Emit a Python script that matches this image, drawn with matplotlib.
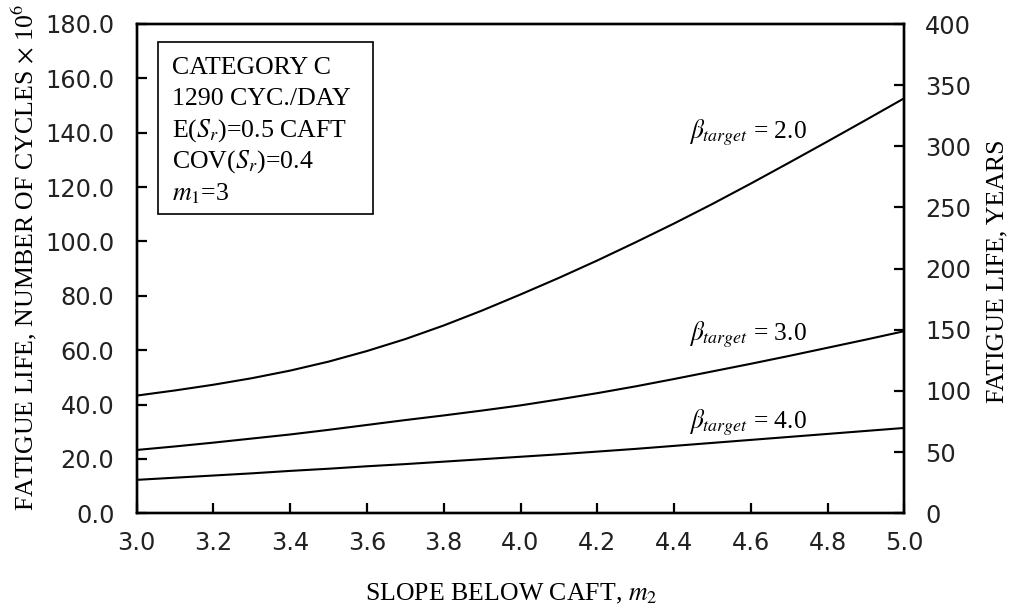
import matplotlib
matplotlib.use("Agg")
import matplotlib.pyplot as plt
from matplotlib.patches import Rectangle
from matplotlib.ticker import FormatStrFormatter

# ---- data ----
m2 = [3.0, 3.1, 3.2, 3.3, 3.4, 3.5, 3.6, 3.7, 3.8, 3.9, 4.0,
      4.1, 4.2, 4.3, 4.4, 4.5, 4.6, 4.7, 4.8, 4.9, 5.0]
beta2 = [43.3, 45.2, 47.3, 49.7, 52.5, 55.8, 59.7, 64.1, 69.1, 74.6, 80.5,
         86.6, 93.0, 99.7, 106.6, 113.8, 121.3, 129.0, 136.8, 144.7, 152.7]
beta3 = [23.3, 24.6, 26.0, 27.5, 29.0, 30.7, 32.5, 34.3, 36.0, 37.8, 39.7,
         41.9, 44.2, 46.7, 49.4, 52.2, 55.0, 57.9, 60.9, 63.9, 67.0]
beta4 = [12.3, 13.1, 13.9, 14.7, 15.6, 16.4, 17.3, 18.1, 19.0, 19.9, 20.8,
         21.7, 22.7, 23.7, 24.8, 25.9, 27.0, 28.1, 29.2, 30.3, 31.4]
series = [beta2, beta3, beta4]
series_labels = ["2.0", "3.0", "4.0"]
label_y = [138, 340, 428]  # baseline pixel rows for labels
left_ticks = [0, 20, 40, 60, 80, 100, 120, 140, 160, 180]
right_ticks = [0, 50, 100, 150, 200, 250, 300, 350, 400]
x_ticks = [3.0, 3.2, 3.4, 3.6, 3.8, 4.0, 4.2, 4.4, 4.6, 4.8, 5.0]
box_lines = ["CATEGORY C", "1290 CYC./DAY", r"E($S_r$)=0.5 CAFT",
             r"COV($S_r$)=0.4", r"$m_1$=3"]

plt.rcParams['mathtext.fontset'] = 'stix'
serif = 'Liberation Serif'
FS = 18.6

W, H = 1013, 612
fig = plt.figure(figsize=(W / 100, H / 100), dpi=100)
L, R, T, B = 136.7, 904.3, 24.0, 513.3
ax = fig.add_axes([L / W, 1 - B / H, (R - L) / W, (B - T) / H])

for s in series:
    ax.plot(m2, s, color='black', lw=1.5)

ax.set_xlim(3.0, 5.0)
ax.set_ylim(0, 180)
ax.set_xticks(x_ticks)
ax.set_yticks(left_ticks)
ax.xaxis.set_major_formatter(FormatStrFormatter('%.1f'))
ax.yaxis.set_major_formatter(FormatStrFormatter('%.1f'))
ax.tick_params(axis='x', direction='in', length=7, width=1.6, pad=13,
               labelsize=17.3, labelcolor='#222222')
ax.tick_params(axis='y', direction='in', length=7, width=1.6, pad=16,
               labelsize=17.3, labelcolor='#222222')
for sp in ax.spines.values():
    sp.set_linewidth(1.7)

ax2 = ax.twinx()
ax2.set_ylim(0, 400)
ax2.set_yticks(right_ticks)
ax2.tick_params(axis='y', direction='in', length=7, width=1.6, pad=15,
                labelsize=17.3, labelcolor='#222222')
for sp in ax2.spines.values():
    sp.set_linewidth(1.7)


def ax_xy(px, py):
    return (px - L) / (R - L), (B - py) / (B - T)


# labels
fig.text(24 / W, 1 - 258 / H, r"FATIGUE LIFE, NUMBER OF CYCLES $\times$ 10$^6$",
         rotation=90, ha='center', va='center', fontsize=FS, family=serif)
fig.text(997 / W, 1 - 271 / H, "FATIGUE LIFE, YEARS",
         rotation=90, ha='center', va='center', fontsize=FS, family=serif)
fig.text(511.5 / W, 1 - 600 / H, r"SLOPE BELOW CAFT, $m_2$",
         ha='center', va='baseline', fontsize=FS, family=serif)

# info box
x0, y0 = ax_xy(157.7, 214)
x1, y1 = ax_xy(373.3, 41.7)
ax.add_patch(Rectangle((x0, y0), x1 - x0, y1 - y0, transform=ax.transAxes,
                       fill=False, lw=1.2, ec='black', zorder=5))
baselines = [74, 105, 137, 168, 200]
for txt, by in zip(box_lines, baselines):
    tx, ty = ax_xy(171.7, by)
    ax.text(tx, ty, txt, transform=ax.transAxes, ha='left', va='baseline',
            fontsize=FS, family=serif)

# curve labels
for lab, by in zip(series_labels, label_y):
    tx, ty = ax_xy(807, by)
    ax.text(tx, ty, r"$\beta_{target}$ = " + lab, transform=ax.transAxes,
            ha='right', va='baseline', fontsize=18.4, family=serif)

fig.savefig("out.png", dpi=100)
